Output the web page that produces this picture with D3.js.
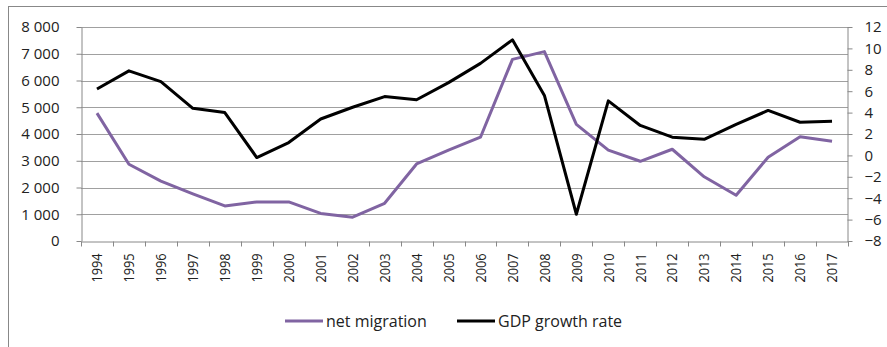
<!DOCTYPE html>
<html>
<head>
<meta charset="utf-8">
<script src="https://cdn.jsdelivr.net/npm/d3@7"></script>
<style>
  body { margin: 0; background: #fff; }
  text { font-family: "Open Sans", "Noto Sans", sans-serif; fill: #222; }
</style>
</head>
<body>
<div id="chart"></div>
<script>
// data
var years = ['1994','1995','1996','1997','1998','1999','2000','2001','2002','2003','2004','2005',
             '2006','2007','2008','2009','2010','2011','2012','2013','2014','2015','2016','2017'];
var netMigration = [4780, 2870, 2240, 1760, 1310, 1460, 1460, 1030, 890, 1410, 2880, 3400,
                    3880, 6790, 7080, 4360, 3400, 2980, 3430, 2400, 1710, 3130, 3900, 3730];
var gdpGrowth = [6.2, 7.9, 6.9, 4.4, 4.0, -0.2, 1.2, 3.4, 4.5, 5.5, 5.2, 6.8,
                 8.6, 10.8, 5.6, -5.5, 5.1, 2.8, 1.7, 1.5, 2.9, 4.2, 3.1, 3.2];
var leftTicks = [0, 1000, 2000, 3000, 4000, 5000, 6000, 7000, 8000];
var rightTicks = [-8, -6, -4, -2, 0, 2, 4, 6, 8, 10, 12];
var seriesNames = ['net migration', 'GDP growth rate'];

var attrs = {
  svgWidth: 887,
  svgHeight: 347,
  marginTop: 27,
  marginLeft: 81,
  plotRight: 848,
  plotBottom: 241,
  purple: '#8064a2',
  black: '#000',
  grid: '#a0a0a0',
  fontSize: '15px'
};

var svg = d3.select('#chart').append('svg')
  .attr('width', attrs.svgWidth)
  .attr('height', attrs.svgHeight);

// outer frame
svg.append('rect')
  .attr('x', 8.5).attr('y', 6.5)
  .attr('width', 900).attr('height', 360)
  .attr('fill', 'none').attr('stroke', '#888').attr('stroke-width', 1);

// scales
var x = d3.scaleBand()
  .domain(years)
  .range([attrs.marginLeft, attrs.plotRight]);

var yLeft = d3.scaleLinear()
  .domain([0, 8000])
  .range([attrs.plotBottom, attrs.marginTop]);

var yRight = d3.scaleLinear()
  .domain([-8, 12])
  .range([attrs.plotBottom, attrs.marginTop]);

var fmt = function (d) { return d3.format(',')(d).replace(',', '\u00a0'); };

// gridlines
svg.append('g').attr('class', 'grid')
  .selectAll('line').data(leftTicks.slice(1)).enter().append('line')
  .attr('x1', attrs.marginLeft).attr('x2', attrs.plotRight)
  .attr('y1', function (d) { return Math.round(yLeft(d)) + 0.5; })
  .attr('y2', function (d) { return Math.round(yLeft(d)) + 0.5; })
  .attr('stroke', attrs.grid).attr('stroke-width', 1);

// left axis
var axisLeft = svg.append('g')
  .attr('transform', 'translate(' + (attrs.marginLeft + 0.5) + ',0)')
  .call(d3.axisLeft(yLeft).tickValues(leftTicks).tickFormat(fmt).tickSizeInner(5).tickSizeOuter(0).tickPadding(17));

// right axis
var axisRight = svg.append('g')
  .attr('transform', 'translate(' + (attrs.plotRight - 0.5) + ',0)')
  .call(d3.axisRight(yRight).tickValues(rightTicks).tickSizeInner(5).tickSizeOuter(0).tickPadding(12));

// bottom axis
var axisBottom = svg.append('g')
  .attr('transform', 'translate(0,' + (attrs.plotBottom + 0.5) + ')')
  .call(d3.axisBottom(x).tickSize(0).tickPadding(0));

// category boundary ticks
axisBottom.append('g').selectAll('line')
  .data(years.concat(['end']))
  .enter().append('line')
  .attr('x1', function (d, i) { return Math.round(attrs.marginLeft + i * x.bandwidth()) + 0.5; })
  .attr('x2', function (d, i) { return Math.round(attrs.marginLeft + i * x.bandwidth()) + 0.5; })
  .attr('y1', 0).attr('y2', 5)
  .attr('stroke', '#888');

[axisLeft, axisRight, axisBottom].forEach(function (g) {
  g.selectAll('.domain').attr('stroke', '#888');
  g.selectAll('.tick line').attr('stroke', '#888');
  g.selectAll('.tick text').style('font-size', attrs.fontSize).attr('fill', '#222');
});

axisBottom.selectAll('.tick text')
  .attr('transform', 'rotate(-90) scale(0.85,1)')
  .attr('text-anchor', 'end')
  .attr('dy', '0.35em')
  .attr('x', -14)
  .attr('y', 0);

// lines
var cx = function (d, i) { return x(years[i]) + x.bandwidth() / 2; };

var migLine = d3.line().x(cx).y(function (d) { return yLeft(d); });
var gdpLine = d3.line().x(cx).y(function (d) { return yRight(d); });

svg.append('path')
  .datum(netMigration)
  .attr('d', migLine)
  .attr('fill', 'none')
  .attr('stroke', attrs.purple)
  .attr('stroke-width', 3)
  .attr('stroke-linejoin', 'round');

svg.append('path')
  .datum(gdpGrowth)
  .attr('d', gdpLine)
  .attr('fill', 'none')
  .attr('stroke', attrs.black)
  .attr('stroke-width', 3)
  .attr('stroke-linejoin', 'round');

// legend
var legendX = [285, 457];
var legendColors = [attrs.purple, attrs.black];
var legend = svg.append('g').attr('class', 'legend')
  .selectAll('g').data(seriesNames).enter().append('g')
  .attr('transform', function (d, i) { return 'translate(' + legendX[i] + ',321)'; });

legend.append('line')
  .attr('x1', 0).attr('x2', 38).attr('y1', 0).attr('y2', 0)
  .attr('stroke', function (d, i) { return legendColors[i]; })
  .attr('stroke-width', 3);

legend.append('text')
  .attr('x', 41)
  .attr('dy', '0.35em')
  .style('font-size', '16px')
  .text(function (d) { return d; });
</script>
</body>
</html>
